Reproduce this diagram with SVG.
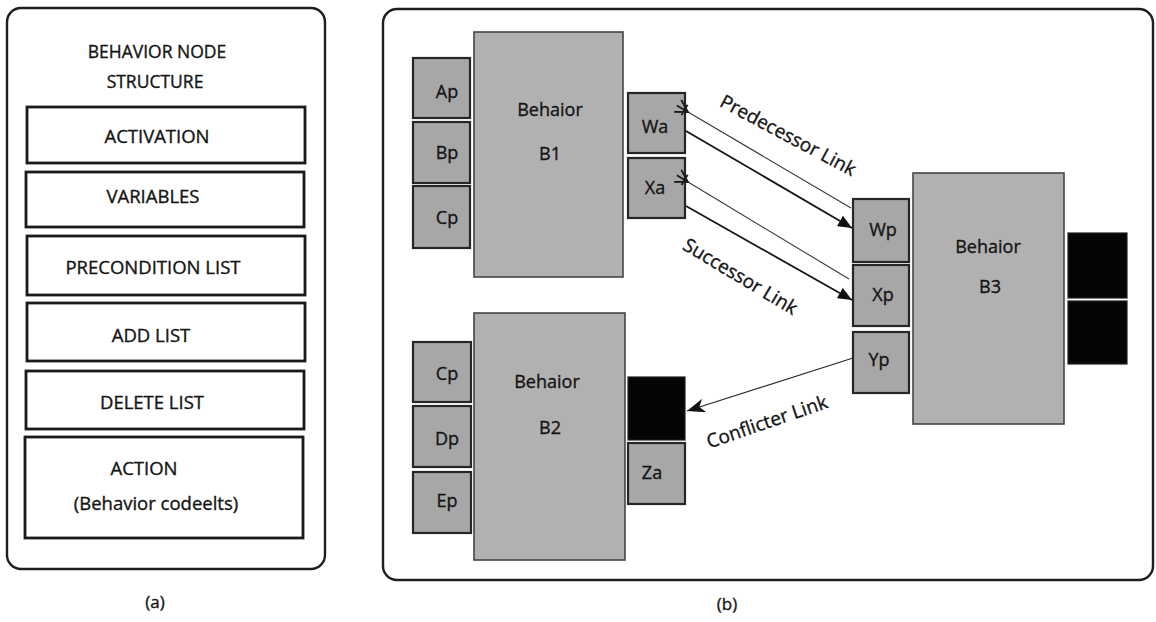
<svg xmlns="http://www.w3.org/2000/svg" width="1156" height="622" viewBox="0 0 1156 622">
  <style>
    text { font-family: "Open Sans", "Noto Sans", "DejaVu Sans", sans-serif; fill: #141414; stroke: #141414; stroke-width: 0.35; }
    .panel { fill: #ffffff; stroke: #1e1e1e; stroke-width: 2.4; }
    .field { fill: #ffffff; stroke: #1a1a1a; stroke-width: 2.8; }
    .ftxt { font-size: 18.5px; text-anchor: middle; }
    .title { font-size: 17.5px; text-anchor: middle; }
    .block { fill: #b1b1b1; stroke: #454545; stroke-width: 1.6; }
    .port { fill: #a7a7a7; stroke: #262626; stroke-width: 2.2; }
    .dark { fill: #050505; stroke: #202020; stroke-width: 1.2; }
    .btxt { font-size: 18px; text-anchor: middle; }
    .ptxt { font-size: 18px; text-anchor: middle; }
    .cap { font-size: 17px; text-anchor: middle; }
    .lbl { font-size: 19px; text-anchor: middle; }
    .pred { fill: none; stroke: #3a3a3a; stroke-width: 1.1; }
    .succ { fill: none; stroke: #161616; stroke-width: 1.8; }
    .conf { fill: none; stroke: #2a2a2a; stroke-width: 1.2; }
  </style>
  <defs>
    <marker id="tri" markerUnits="userSpaceOnUse" markerWidth="16" markerHeight="12" refX="14" refY="6" orient="auto">
      <path d="M0,0 L14,6 L0,12 Z" fill="#111111"/>
    </marker>
    <marker id="star" markerUnits="userSpaceOnUse" markerWidth="18" markerHeight="18" refX="2" refY="9" orient="auto">
      <path d="M14,2 L2,9 L14,16 M2,9 L15,9 M6,3 L6,15" fill="none" stroke="#1a1a1a" stroke-width="1.8"/>
    </marker>
    <marker id="barb" markerUnits="userSpaceOnUse" markerWidth="20" markerHeight="14" refX="18" refY="7" orient="auto">
      <path d="M0,0 L18,7 L0,14 L5,7 Z" fill="#111111"/>
    </marker>
  </defs>

  <!-- (a) behavior node structure -->
  <g id="node-structure">
    <rect class="panel" x="7" y="8" width="318" height="561" rx="14"/>
    <text class="title" x="157" y="58">BEHAVIOR NODE</text>
    <text class="title" x="155" y="88">STRUCTURE</text>
  </g>
  <g id="field-activation">
    <rect class="field" x="27" y="107" width="278" height="56"/>
    <text class="ftxt" x="157" y="143">ACTIVATION</text>
  </g>
  <g id="field-variables">
    <rect class="field" x="26" y="172" width="278" height="55"/>
    <text class="ftxt" x="153" y="203">VARIABLES</text>
  </g>
  <g id="field-precondition">
    <rect class="field" x="27" y="236" width="278" height="59"/>
    <text class="ftxt" x="153" y="274">PRECONDITION LIST</text>
  </g>
  <g id="field-add">
    <rect class="field" x="27" y="303" width="278" height="58"/>
    <text class="ftxt" x="151" y="342">ADD LIST</text>
  </g>
  <g id="field-delete">
    <rect class="field" x="26" y="371" width="278" height="58"/>
    <text class="ftxt" x="152" y="409">DELETE LIST</text>
  </g>
  <g id="field-action">
    <rect class="field" x="25" y="437" width="278" height="101"/>
    <text class="ftxt" x="144" y="475">ACTION</text>
    <text class="ftxt" x="156" y="510">(Behavior codeelts)</text>
  </g>
  <text class="cap" x="155" y="608">(a)</text>

  <!-- (b) behavior network -->
  <g id="network-frame">
    <rect class="panel" x="383" y="9" width="770" height="571" rx="14"/>
  </g>

  <g id="behavior-b1">
    <rect class="block" x="474" y="32" width="149" height="245"/>
    <text class="btxt" x="550" y="116">Behaior</text>
    <text class="btxt" x="550" y="160">B1</text>
  </g>
  <g id="port-ap"><rect class="port" x="413" y="58" width="57" height="60"/><text class="ptxt" x="447" y="98">Ap</text></g>
  <g id="port-bp"><rect class="port" x="413" y="122" width="57" height="61"/><text class="ptxt" x="447" y="159">Bp</text></g>
  <g id="port-cp1"><rect class="port" x="413" y="186" width="57" height="62"/><text class="ptxt" x="447" y="224">Cp</text></g>
  <g id="port-wa"><rect class="port" x="628" y="93" width="57" height="60"/><text class="ptxt" x="655" y="133">Wa</text></g>
  <g id="port-xa"><rect class="port" x="628" y="158" width="57" height="60"/><text class="ptxt" x="655" y="194">Xa</text></g>

  <g id="behavior-b2">
    <rect class="block" x="474" y="313" width="151" height="247"/>
    <text class="btxt" x="547" y="388">Behaior</text>
    <text class="btxt" x="550" y="434">B2</text>
  </g>
  <g id="port-cp2"><rect class="port" x="413" y="342" width="58" height="60"/><text class="ptxt" x="447" y="380">Cp</text></g>
  <g id="port-dp"><rect class="port" x="413" y="406" width="58" height="61"/><text class="ptxt" x="447" y="445">Dp</text></g>
  <g id="port-ep"><rect class="port" x="413" y="472" width="58" height="61"/><text class="ptxt" x="447" y="507">Ep</text></g>
  <g id="port-ya"><rect class="dark" x="628" y="377" width="57" height="63"/></g>
  <g id="port-za"><rect class="port" x="628" y="443" width="57" height="61"/><text class="ptxt" x="652" y="479">Za</text></g>

  <g id="behavior-b3">
    <rect class="block" x="913" y="173" width="151" height="251"/>
    <text class="btxt" x="988" y="253">Behaior</text>
    <text class="btxt" x="990" y="293">B3</text>
  </g>
  <g id="port-wp"><rect class="port" x="853" y="199" width="56" height="63"/><text class="ptxt" x="883" y="236">Wp</text></g>
  <g id="port-xp"><rect class="port" x="853" y="265" width="56" height="61"/><text class="ptxt" x="883" y="301">Xp</text></g>
  <g id="port-yp"><rect class="port" x="853" y="332" width="56" height="61"/><text class="ptxt" x="879" y="366">Yp</text></g>
  <g id="port-out1"><rect class="dark" x="1068" y="233" width="59" height="65"/></g>
  <g id="port-out2"><rect class="dark" x="1068" y="301" width="59" height="63"/></g>

  <!-- links between behaviors -->
  <g id="connectors">
    <path class="pred" d="M851,208 L688,112" marker-end="url(#star)"/>
    <path class="succ" d="M686,131 L852,228" marker-end="url(#tri)"/>
    <path class="pred" d="M849,279 L688,182" marker-end="url(#star)"/>
    <path class="succ" d="M686,206 L852,300" marker-end="url(#tri)"/>
    <path class="conf" d="M853,358 L687,411" marker-end="url(#barb)"/>
    <text class="lbl" transform="translate(785,141) rotate(28)">Predecessor Link</text>
    <text class="lbl" transform="translate(737,282) rotate(31)">Successor Link</text>
    <text class="lbl" transform="translate(769,428) rotate(-19)">Conflicter Link</text>
  </g>
  <text class="cap" x="727" y="610">(b)</text>
</svg>
